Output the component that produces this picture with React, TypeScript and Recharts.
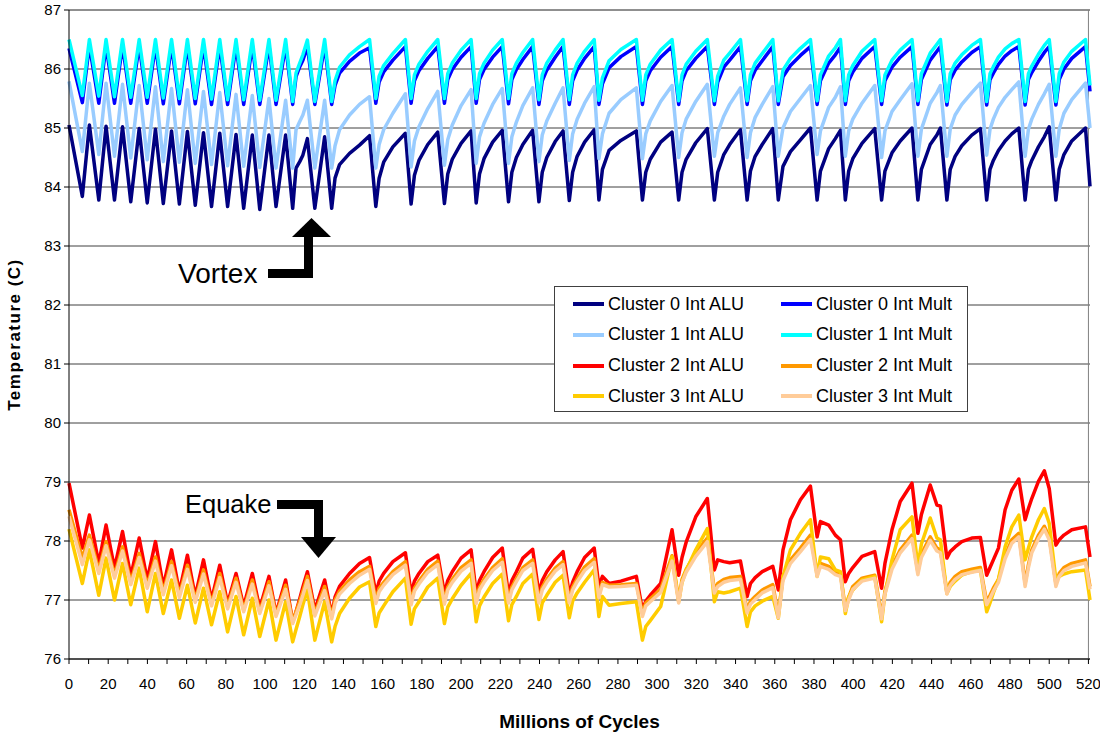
import React from "react";
import { LineChart, Line, XAxis, YAxis, CartesianGrid, ReferenceLine } from "recharts";

// x positions, millions of cycles (shared by all series)
const cycles = [
  0, 6.8, 10.4, 15.2, 18.9, 23.2, 27.3, 31.5, 35.8, 39.9,
  44.1, 48.1, 52.3, 56.3, 60.4, 64.4, 68.6, 72.7, 76.9, 80.9,
  85.2, 89.1, 93.5, 97.3, 102.0, 105.6, 110.5, 114.1, 115.8, 117.7,
  119.3, 121.6, 125.4, 130.4, 134.0, 135.7, 138.0, 143.1, 148.2, 153.3,
  156.5, 158.2, 160.5, 165.2, 171.6, 174.5, 176.2, 178.5, 183.0, 188.1,
  191.5, 193.2, 195.5, 200.0, 205.1, 207.7, 209.4, 211.7, 216.1, 221.0,
  224.2, 225.9, 228.2, 231.5, 236.5, 239.7, 241.4, 243.7, 248.0, 252.0,
  255.2, 256.9, 259.2, 263.0, 267.9, 270.3, 272.1, 275.5, 281.5, 289.4,
  292.5, 294.2, 296.5, 301.8, 307.6, 311.0, 312.7, 314.8, 319.7, 325.6,
  329.2, 330.9, 334.0, 337.0, 342.5, 345.9, 347.6, 350.0, 353.6, 359.0,
  361.8, 364.2, 368.0, 373.1, 378.2, 381.6, 383.3, 387.5, 390.9, 393.5,
  396.0, 397.7, 399.8, 404.5, 411.0, 414.5, 416.2, 419.8, 424.0, 430.0,
  433.0, 434.8, 439.3, 442.7, 444.5, 447.8, 449.5, 452.0, 455.4, 460.5,
  464.9, 468.1, 469.8, 471.5, 474.1, 477.5, 480.9, 484.5, 487.7, 489.4,
  491.1, 494.5, 497.5, 500.0, 503.4, 505.1, 507.5, 511.5, 518.5, 520.8,
];

const c0Alu = [
  85.05, 83.84, 85.05, 83.78, 85.03, 83.78, 85.02, 83.75, 84.99, 83.73,
  84.98, 83.72, 84.95, 83.71, 84.94, 83.69, 84.92, 83.67, 84.91, 83.67,
  84.89, 83.64, 84.88, 83.62, 84.88, 83.67, 84.88, 83.64, 84.32, 84.43,
  84.54, 84.82, 83.64, 84.85, 83.64, 84.15, 84.38, 84.57, 84.71, 84.87,
  83.67, 84.15, 84.42, 84.68, 84.91, 83.71, 84.20, 84.45, 84.72, 84.93,
  83.72, 84.22, 84.47, 84.74, 84.95, 83.73, 84.22, 84.48, 84.76, 84.96,
  83.75, 84.25, 84.50, 84.72, 84.96, 83.75, 84.25, 84.50, 84.77, 84.95,
  83.77, 84.25, 84.52, 84.76, 84.97, 83.78, 84.30, 84.62, 84.79, 84.95,
  83.78, 84.25, 84.47, 84.76, 84.93, 83.78, 84.25, 84.47, 84.75, 84.99,
  83.78, 84.25, 84.55, 84.72, 84.97, 83.78, 84.27, 84.52, 84.72, 84.99,
  83.78, 84.35, 84.60, 84.80, 85.00, 83.78, 84.27, 84.65, 84.82, 84.96,
  83.78, 84.27, 84.48, 84.74, 84.99, 83.78, 84.27, 84.58, 84.78, 85.00,
  83.78, 84.30, 84.72, 84.88, 85.00, 83.78, 84.30, 84.52, 84.70, 84.88,
  84.99, 83.78, 84.30, 84.45, 84.62, 84.78, 84.90, 85.00, 83.78, 84.30,
  84.45, 84.68, 84.85, 85.02, 83.78, 84.30, 84.55, 84.78, 85.00, 84.01,
];

const c0Mult = [
  86.35, 85.43, 86.40, 85.42, 86.40, 85.42, 86.40, 85.42, 86.40, 85.42,
  86.40, 85.41, 86.40, 85.41, 86.40, 85.41, 86.40, 85.40, 86.40, 85.40,
  86.40, 85.40, 86.40, 85.40, 86.40, 85.40, 86.40, 85.40, 85.87, 86.04,
  86.15, 86.38, 85.40, 86.40, 85.40, 85.72, 85.93, 86.13, 86.27, 86.36,
  85.42, 85.78, 85.95, 86.15, 86.38, 85.42, 85.80, 85.97, 86.18, 86.38,
  85.42, 85.82, 85.99, 86.20, 86.38, 85.42, 85.82, 85.99, 86.20, 86.38,
  85.41, 85.82, 85.99, 86.16, 86.38, 85.40, 85.80, 85.98, 86.20, 86.38,
  85.40, 85.80, 85.98, 86.18, 86.38, 85.40, 85.75, 86.02, 86.21, 86.38,
  85.40, 85.80, 85.97, 86.20, 86.38, 85.40, 85.80, 85.97, 86.18, 86.38,
  85.40, 85.78, 86.03, 86.15, 86.38, 85.40, 85.80, 85.98, 86.14, 86.38,
  85.40, 85.87, 86.06, 86.23, 86.38, 85.40, 85.80, 86.10, 86.24, 86.37,
  85.40, 85.80, 85.95, 86.18, 86.38, 85.40, 85.80, 86.03, 86.20, 86.38,
  85.40, 85.82, 86.15, 86.30, 86.38, 85.39, 85.82, 85.98, 86.12, 86.28,
  86.38, 85.39, 85.82, 85.93, 86.08, 86.22, 86.31, 86.38, 85.39, 85.82,
  85.94, 86.13, 86.28, 86.38, 85.39, 85.82, 86.00, 86.18, 86.38, 85.62,
];

const c1Alu = [
  85.79, 84.60, 85.76, 84.55, 85.76, 84.52, 85.74, 84.49, 85.72, 84.46,
  85.70, 84.43, 85.67, 84.42, 85.65, 84.40, 85.62, 84.38, 85.60, 84.36,
  85.57, 84.35, 85.55, 84.33, 85.50, 84.32, 85.47, 84.32, 84.97, 85.11,
  85.22, 85.47, 84.32, 85.47, 84.32, 84.70, 84.97, 85.22, 85.40, 85.53,
  84.32, 84.72, 84.97, 85.25, 85.58, 84.34, 84.78, 85.02, 85.33, 85.62,
  84.37, 84.80, 85.05, 85.38, 85.65, 84.40, 84.85, 85.08, 85.40, 85.67,
  84.40, 84.85, 85.10, 85.38, 85.68, 84.43, 84.88, 85.12, 85.42, 85.68,
  84.45, 84.90, 85.15, 85.42, 85.70, 84.48, 84.90, 85.25, 85.48, 85.68,
  84.48, 84.90, 85.12, 85.45, 85.72, 84.50, 84.92, 85.15, 85.45, 85.74,
  84.52, 84.92, 85.20, 85.40, 85.68, 84.50, 84.92, 85.18, 85.40, 85.70,
  84.52, 85.00, 85.28, 85.50, 85.72, 84.55, 84.95, 85.35, 85.52, 85.70,
  84.52, 84.95, 85.15, 85.42, 85.72, 84.50, 84.95, 85.28, 85.48, 85.75,
  84.52, 84.98, 85.42, 85.60, 85.72, 84.52, 84.98, 85.22, 85.40, 85.60,
  85.76, 84.54, 84.98, 85.15, 85.35, 85.52, 85.65, 85.78, 84.52, 84.98,
  85.15, 85.40, 85.58, 85.74, 84.52, 84.98, 85.25, 85.48, 85.76, 85.00,
];

const c1Mult = [
  86.50, 85.55, 86.50, 85.54, 86.50, 85.53, 86.50, 85.52, 86.50, 85.52,
  86.50, 85.51, 86.50, 85.50, 86.50, 85.50, 86.50, 85.49, 86.50, 85.48,
  86.50, 85.48, 86.50, 85.47, 86.50, 85.47, 86.50, 85.45, 85.93, 86.10,
  86.24, 86.49, 85.45, 86.50, 85.45, 85.80, 86.03, 86.24, 86.38, 86.50,
  85.50, 85.88, 86.06, 86.26, 86.50, 85.50, 85.90, 86.08, 86.30, 86.50,
  85.50, 85.92, 86.10, 86.32, 86.50, 85.50, 85.92, 86.10, 86.32, 86.50,
  85.50, 85.92, 86.10, 86.28, 86.50, 85.48, 85.90, 86.10, 86.32, 86.50,
  85.48, 85.90, 86.10, 86.30, 86.50, 85.47, 85.85, 86.14, 86.33, 86.50,
  85.47, 85.90, 86.08, 86.32, 86.50, 85.46, 85.90, 86.08, 86.30, 86.50,
  85.46, 85.88, 86.15, 86.27, 86.50, 85.46, 85.90, 86.10, 86.26, 86.50,
  85.46, 85.98, 86.18, 86.35, 86.50, 85.46, 85.90, 86.22, 86.36, 86.50,
  85.46, 85.90, 86.06, 86.30, 86.50, 85.46, 85.90, 86.15, 86.32, 86.50,
  85.46, 85.92, 86.27, 86.42, 86.50, 85.45, 85.92, 86.10, 86.24, 86.40,
  86.50, 85.45, 85.92, 86.04, 86.20, 86.34, 86.43, 86.50, 85.45, 85.92,
  86.05, 86.25, 86.40, 86.50, 85.45, 85.92, 86.12, 86.30, 86.50, 85.72,
];

const c2Alu = [
  78.98, 77.88, 78.44, 77.62, 78.27, 77.54, 78.16, 77.40, 78.05, 77.34,
  77.99, 77.23, 77.85, 77.14, 77.76, 77.06, 77.68, 77.00, 77.59, 76.94,
  77.45, 76.89, 77.45, 76.86, 77.40, 76.77, 77.34, 76.63, 76.80, 77.02,
  77.22, 77.48, 76.83, 77.34, 76.75, 77.05, 77.23, 77.45, 77.62, 77.72,
  77.11, 77.32, 77.45, 77.65, 77.80, 77.11, 77.32, 77.45, 77.65, 77.76,
  77.11, 77.33, 77.48, 77.71, 77.85, 77.11, 77.33, 77.48, 77.72, 77.88,
  77.09, 77.33, 77.48, 77.71, 77.86, 77.11, 77.33, 77.48, 77.68, 77.82,
  77.09, 77.30, 77.48, 77.72, 77.88, 77.23, 77.40, 77.28, 77.32, 77.40,
  76.83, 76.98, 77.08, 77.28, 78.19, 77.42, 77.72, 77.98, 78.41, 78.72,
  77.51, 77.68, 77.65, 77.63, 77.66, 77.06, 77.28, 77.38, 77.48, 77.57,
  77.17, 77.85, 78.36, 78.70, 78.93, 78.07, 78.33, 78.27, 78.10, 78.02,
  77.31, 77.45, 77.55, 77.74, 77.82, 77.20, 77.62, 78.19, 78.67, 78.98,
  78.13, 78.45, 78.95, 78.61, 78.59, 77.71, 77.82, 77.90, 77.99, 78.05,
  78.06, 77.42, 77.55, 77.68, 77.88, 78.53, 78.86, 79.05, 78.36, 78.55,
  78.72, 79.01, 79.19, 78.89, 77.93, 78.02, 78.10, 78.19, 78.24, 77.73,
];

const c2Mult = [
  78.53, 77.71, 78.10, 77.51, 77.99, 77.42, 77.90, 77.31, 77.79, 77.25,
  77.73, 77.14, 77.65, 77.09, 77.59, 77.00, 77.51, 76.94, 77.45, 76.89,
  77.37, 76.83, 77.34, 76.80, 77.31, 76.75, 77.25, 76.63, 76.80, 76.98,
  77.15, 77.40, 76.77, 77.23, 76.72, 77.00, 77.15, 77.34, 77.48, 77.57,
  77.00, 77.20, 77.30, 77.48, 77.65, 76.97, 77.20, 77.32, 77.52, 77.66,
  76.98, 77.22, 77.35, 77.55, 77.68, 77.00, 77.22, 77.35, 77.55, 77.70,
  77.00, 77.22, 77.36, 77.55, 77.68, 77.00, 77.22, 77.35, 77.54, 77.65,
  77.00, 77.22, 77.36, 77.56, 77.70, 77.08, 77.30, 77.25, 77.26, 77.28,
  76.78, 76.95, 77.02, 77.18, 77.75, 77.00, 77.35, 77.52, 77.80, 78.05,
  77.17, 77.28, 77.35, 77.38, 77.40, 76.83, 76.98, 77.06, 77.17, 77.26,
  76.75, 77.40, 77.68, 77.88, 78.10, 77.45, 77.62, 77.57, 77.48, 77.45,
  76.86, 77.05, 77.23, 77.37, 77.42, 76.72, 77.15, 77.57, 77.85, 78.10,
  77.48, 77.78, 78.07, 77.88, 77.85, 77.14, 77.30, 77.40, 77.48, 77.52,
  77.55, 76.97, 77.08, 77.20, 77.35, 77.75, 78.02, 78.13, 77.28, 77.60,
  77.85, 78.10, 78.25, 78.07, 77.28, 77.45, 77.55, 77.62, 77.68, 77.23,
];

const c3Alu = [
  78.20, 77.28, 77.85, 77.08, 77.71, 77.00, 77.62, 76.92, 77.54, 76.80,
  77.45, 76.77, 77.34, 76.69, 77.25, 76.61, 77.20, 76.58, 77.14, 76.46,
  77.06, 76.41, 77.03, 76.38, 77.00, 76.32, 76.97, 76.29, 76.50, 76.72,
  76.92, 77.17, 76.32, 76.97, 76.29, 76.55, 76.77, 77.03, 77.22, 77.31,
  76.55, 76.78, 76.90, 77.14, 77.37, 76.59, 76.85, 76.97, 77.22, 77.37,
  76.60, 76.88, 77.02, 77.25, 77.45, 76.63, 76.90, 77.05, 77.28, 77.44,
  76.65, 76.92, 77.06, 77.28, 77.44, 76.67, 76.95, 77.08, 77.30, 77.42,
  76.70, 76.98, 77.12, 77.30, 77.51, 76.72, 77.06, 76.91, 76.94, 76.97,
  76.32, 76.55, 76.65, 76.89, 77.73, 76.97, 77.30, 77.50, 77.85, 78.21,
  76.97, 77.14, 77.12, 77.14, 77.20, 76.55, 76.80, 76.90, 76.98, 77.06,
  76.69, 77.40, 77.85, 78.13, 78.36, 77.40, 77.73, 77.70, 77.51, 77.48,
  76.77, 77.05, 77.17, 77.34, 77.40, 76.63, 77.10, 77.68, 78.19, 78.41,
  77.57, 77.95, 78.39, 78.05, 78.02, 77.11, 77.23, 77.32, 77.42, 77.48,
  77.51, 76.80, 76.95, 77.12, 77.35, 77.90, 78.24, 78.44, 77.68, 77.88,
  78.07, 78.36, 78.55, 78.30, 77.34, 77.40, 77.44, 77.48, 77.51, 77.00,
];

const c3Mult = [
  78.42, 77.60, 78.02, 77.45, 77.92, 77.37, 77.83, 77.26, 77.72, 77.20,
  77.66, 77.09, 77.58, 77.04, 77.52, 76.96, 77.44, 76.90, 77.38, 76.85,
  77.30, 76.80, 77.27, 76.77, 77.24, 76.72, 77.18, 76.60, 76.75, 76.92,
  77.08, 77.33, 76.73, 77.16, 76.68, 76.94, 77.10, 77.28, 77.42, 77.52,
  76.94, 77.14, 77.25, 77.43, 77.59, 76.92, 77.15, 77.27, 77.47, 77.60,
  76.93, 77.17, 77.30, 77.49, 77.62, 76.94, 77.17, 77.30, 77.50, 77.64,
  76.95, 77.17, 77.31, 77.50, 77.62, 76.95, 77.17, 77.30, 77.49, 77.60,
  76.95, 77.17, 77.31, 77.50, 77.64, 77.04, 77.26, 77.22, 77.23, 77.25,
  76.72, 76.90, 76.97, 77.13, 77.66, 76.95, 77.30, 77.47, 77.74, 77.99,
  77.12, 77.23, 77.30, 77.33, 77.35, 76.78, 76.93, 77.01, 77.12, 77.21,
  76.70, 77.33, 77.62, 77.82, 78.03, 77.40, 77.57, 77.52, 77.43, 77.40,
  76.82, 77.00, 77.18, 77.32, 77.37, 76.68, 77.10, 77.52, 77.80, 78.04,
  77.43, 77.72, 78.01, 77.83, 77.80, 77.10, 77.25, 77.35, 77.43, 77.47,
  77.50, 76.92, 77.03, 77.15, 77.30, 77.70, 77.96, 78.07, 77.23, 77.55,
  77.80, 78.04, 78.20, 78.02, 77.23, 77.40, 77.50, 77.57, 77.63, 77.18,
];

const series = [
  { key: "c0Alu", name: "Cluster 0 Int ALU", color: "#000080", values: c0Alu },
  { key: "c0Mult", name: "Cluster 0 Int Mult", color: "#0000FF", values: c0Mult },
  { key: "c1Alu", name: "Cluster 1 Int ALU", color: "#99CCFF", values: c1Alu },
  { key: "c1Mult", name: "Cluster 1 Int Mult", color: "#00FFFF", values: c1Mult },
  { key: "c2Alu", name: "Cluster 2 Int ALU", color: "#FF0000", values: c2Alu },
  { key: "c2Mult", name: "Cluster 2 Int Mult", color: "#FF9900", values: c2Mult },
  { key: "c3Alu", name: "Cluster 3 Int ALU", color: "#FFCC00", values: c3Alu },
  { key: "c3Mult", name: "Cluster 3 Int Mult", color: "#FFCC99", values: c3Mult },
];

const xTicks = Array.from({ length: 53 }, (_, i) => i * 10);
const yTicks = [76, 77, 78, 79, 80, 81, 82, 83, 84, 85, 86, 87];

const data = cycles.map((x, i) => {
  const row: Record<string, number> = { x };
  series.forEach((s) => {
    row[s.key] = s.values[i];
  });
  return row;
});

const font = "'Liberation Sans', Arial, sans-serif";

const ChartLegend = () => (
  <div
    style={{
      position: "absolute",
      left: 554,
      top: 286,
      width: 412,
      height: 124,
      background: "#fff",
      border: "1px solid #404040",
      fontFamily: font,
      fontSize: 18,
    }}
  >
    {series.map((s, i) => (
      <div
        key={s.key}
        style={{
          position: "absolute",
          left: 18 + (i % 2) * 208,
          top: 2 + Math.floor(i / 2) * 30.8,
          height: 30,
          display: "flex",
          alignItems: "center",
          whiteSpace: "nowrap",
        }}
      >
        <span style={{ width: 31, height: 4, background: s.color, marginRight: 4 }} />
        <span>{s.name}</span>
      </div>
    ))}
  </div>
);

const Annotations = () => (
  <svg
    width={1100}
    height={732}
    style={{ position: "absolute", left: 0, top: 0, pointerEvents: "none" }}
  >
    <text x={178} y={283} fontSize={28} fontFamily={font} fill="#000">
      Vortex
    </text>
    <rect x={268} y={269} width={45} height={9} fill="#000" />
    <rect x={304} y={236} width={9} height={42} fill="#000" />
    <polygon points="292,237 331,237 311.5,218" fill="#000" />
    <text x={185} y={513} fontSize={25.5} fontFamily={font} fill="#000">
      Equake
    </text>
    <rect x={277} y={500} width={46} height={9} fill="#000" />
    <rect x={314} y={500} width={9} height={38} fill="#000" />
    <polygon points="301,537 336,537 318.5,558" fill="#000" />
  </svg>
);

const App = () => {
  return (
    <div style={{ position: "absolute", left: 0, top: 0, width: 1100, height: 732 }}>
      <LineChart
        width={1100}
        height={732}
        data={data}
        margin={{ top: 10, right: 10, left: 0, bottom: 0 }}
      >
        <CartesianGrid vertical={false} stroke="#404040" />
        <XAxis
          dataKey="x"
          type="number"
          domain={[0, 520]}
          ticks={xTicks}
          interval={0}
          tickFormatter={(v: number) => (v % 20 === 0 ? String(v) : "")}
          tick={{ fontSize: 15, fill: "#000", fontFamily: font }}
          tickSize={5}
          tickMargin={14}
          stroke="#000"
          height={73}
          label={{
            value: "Millions of Cycles",
            position: "insideBottom",
            offset: 4,
            style: { fontSize: 19, fontWeight: "bold", fill: "#000", fontFamily: font },
          }}
        />
        <YAxis
          type="number"
          domain={[76, 87]}
          ticks={yTicks}
          interval={0}
          tick={{ fontSize: 15, fill: "#000", fontFamily: font }}
          tickSize={5}
          tickMargin={3}
          stroke="#000"
          width={69}
          label={{
            value: "Temperature (C)",
            angle: -90,
            position: "insideLeft",
            offset: 14,
            style: {
              textAnchor: "middle",
              fontSize: 17,
              letterSpacing: 1.5,
              fontWeight: "bold",
              fill: "#000",
              fontFamily: font,
            },
          }}
        />
        <ReferenceLine y={87} stroke="#808080" />
        <ReferenceLine x={520} stroke="#808080" />
        {series.map((s) => (
          <Line
            key={s.key}
            type="linear"
            dataKey={s.key}
            name={s.name}
            stroke={s.color}
            strokeWidth={3.5}
            strokeLinejoin="round"
            dot={false}
            activeDot={false}
            isAnimationActive={false}
          />
        ))}
      </LineChart>
      <ChartLegend />
      <Annotations />
    </div>
  );
};

export default App;
